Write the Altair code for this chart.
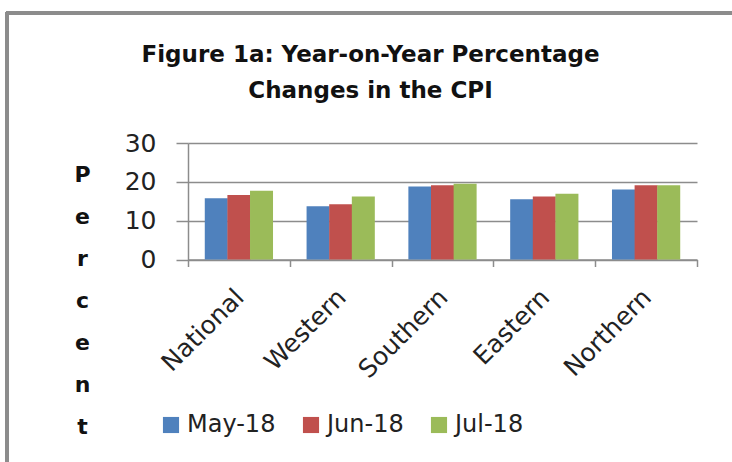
import altair as alt
import pandas as pd

regions = ["National", "Western", "Southern", "Eastern", "Northern"]
months = ["May-18", "Jun-18", "Jul-18"]
may_18 = [15.8, 13.7, 18.8, 15.5, 18.0]
jun_18 = [16.6, 14.2, 19.1, 16.2, 19.1]
jul_18 = [17.7, 16.2, 19.5, 16.9, 19.1]
y_ticks = [0, 10, 20, 30]
colors = ["#4F81BD", "#C0504D", "#9BBB59"]

rows = []
for m, vals in zip(months, [may_18, jun_18, jul_18]):
    for r, v in zip(regions, vals):
        rows.append({"Region": r, "Month": m, "Value": v})
df = pd.DataFrame(rows)

FONT = "DejaVu Sans"
GRAY = "#8c8c8c"

bars = alt.Chart(df).mark_bar(size=23).encode(
    x=alt.X("Region:N", sort=regions,
            scale=alt.Scale(paddingInner=0, paddingOuter=0),
            axis=alt.Axis(title=None, labelAngle=-45, labelFontSize=25, labelFont=FONT,
                          labelColor="#222222", tickBand="extent", tickSize=7,
                          tickColor=GRAY, domainColor=GRAY, domainWidth=1.5, tickWidth=1.5,
                          labelPadding=18, labelOffset=-8, grid=False)),
    xOffset=alt.XOffset("Month:N", sort=months,
                        scale=alt.Scale(paddingInner=0, paddingOuter=0.75)),
    y=alt.Y("Value:Q", scale=alt.Scale(domain=[0, 30]),
            axis=alt.Axis(values=y_ticks, labelFontSize=25, labelFont=FONT, labelColor="#222222",
                          tickSize=12, tickColor=GRAY, tickWidth=1.5, domainColor=GRAY,
                          domainWidth=1.5, gridColor=GRAY, gridWidth=1.5, labelPadding=20,
                          title=["P", "e", "r", "c", "e", "n", "t"], titleAngle=0,
                          titleFont=FONT, titleFontSize=22, titleFontWeight="bold",
                          titleColor="#111111", titleLineHeight=42, titleBaseline="top",
                          titleAlign="center", titleX=-106, titleY=21)),
    color=alt.Color("Month:N", sort=months, scale=alt.Scale(domain=months, range=colors),
                    legend=alt.Legend(title=None, orient="none", legendX=-29, legendY=270,
                                      direction="horizontal", symbolType="square",
                                      symbolSize=260, symbolStrokeWidth=0,
                                      labelFontSize=24, labelFont=FONT, labelColor="#222222",
                                      columnPadding=23, labelOffset=4)),
)

frame_top = alt.Chart(df).mark_rule(color=GRAY, strokeWidth=3).encode(
    x=alt.value(-182), x2=alt.value(560), y=alt.value(-130))
frame_left = alt.Chart(df).mark_rule(color=GRAY, strokeWidth=3).encode(
    x=alt.value(-181), y=alt.value(-131), y2=alt.value(330))

chart = alt.layer(bars, frame_top, frame_left).properties(
    width=509, height=116.5,
    autosize=alt.AutoSizeParams(type="none"),
    padding={"left": 188, "top": 143, "right": 35, "bottom": 202.5},
    title=alt.TitleParams(["Figure 1a: Year-on-Year Percentage", "Changes in the CPI"],
                          font=FONT, fontSize=23, fontWeight="bold", color="#111111",
                          anchor="middle", frame="group", dx=-72, offset=0, dy=92,
                          lineHeight=36),
).configure_view(stroke=None)

chart.save("out.html", embed_options={"renderer": "svg", "actions": False})
